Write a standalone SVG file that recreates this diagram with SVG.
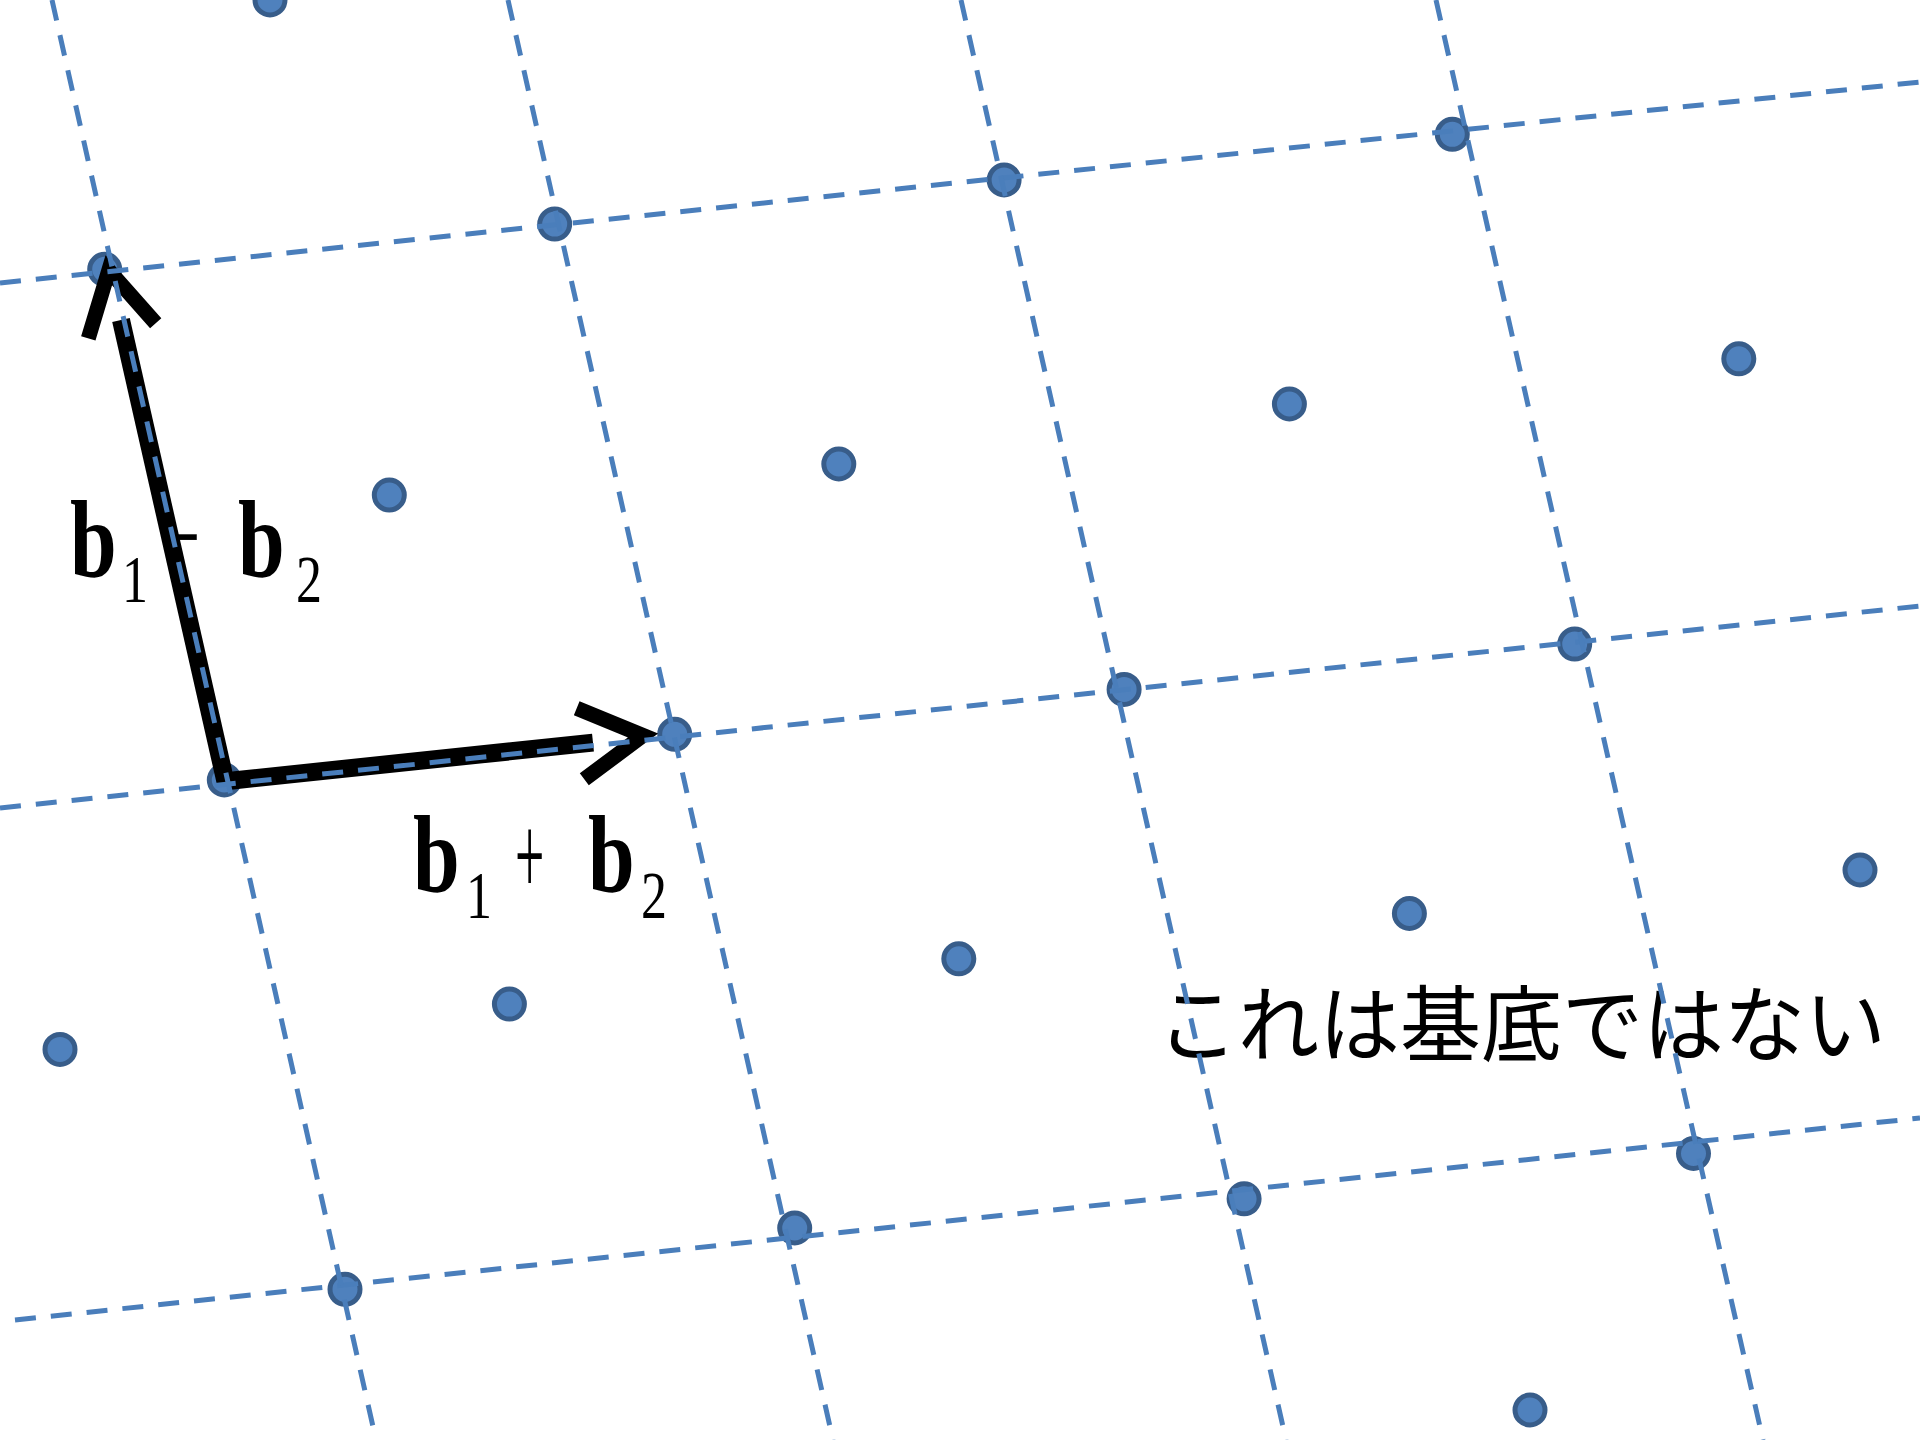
<svg xmlns="http://www.w3.org/2000/svg" width="1920" height="1440" viewBox="0 0 1920 1440">
<style>
.dot{fill:#4F81BD;stroke:#385D8A;stroke-width:5}
.grid{stroke:#4A7EBB;stroke-width:5;stroke-dasharray:21 15;fill:none}
.shaft{stroke:#000;stroke-width:18;fill:none;stroke-linecap:butt}
.wing{stroke:#000;stroke-width:15;fill:none;stroke-linecap:butt;stroke-linejoin:miter;stroke-miterlimit:6}
.bv{font-family:"Liberation Serif",serif;font-weight:bold;font-size:84px;fill:#000}
.sub{font-family:"Liberation Serif",serif;font-size:52px;fill:#000}
.jp{font-family:"Noto Sans CJK JP",sans-serif;font-size:81px;fill:#000}
</style>
<rect width="1920" height="1440" fill="#fff"/>
<g id="labels">
<g id="label-b1-minus-b2">
<text class="bv" transform="translate(70,576.7) scale(1,1.32)">b</text>
<text class="sub" transform="translate(122,601.7) scale(1,1.32)">1</text>
<text class="sub" transform="translate(170,575) scale(1,2.2)">−</text>
<text class="bv" transform="translate(238,576.7) scale(1,1.32)">b</text>
<text class="sub" transform="translate(296,601.7) scale(1,1.32)">2</text>
</g>
<g id="label-b1-plus-b2">
<text class="bv" transform="translate(413,891.7) scale(1,1.32)">b</text>
<text class="sub" transform="translate(466,918) scale(1,1.32)">1</text>
<text class="sub" transform="translate(515,894) scale(1,2.2)">+</text>
<text class="bv" transform="translate(588,891.7) scale(1,1.32)">b</text>
<text class="sub" transform="translate(641,918) scale(1,1.32)">2</text>
</g>
<g id="label-not-basis">
<text class="jp" transform="translate(1157,1055) scale(1,1.03)">これは基底ではない</text>
</g>
</g>
<g id="dots">
<g id="p1"><circle class="dot" cx="270" cy="0" r="15"/></g>
<g id="p2"><circle class="dot" cx="104.7" cy="269.3" r="15"/></g>
<g id="p3"><circle class="dot" cx="554.7" cy="224.1" r="15"/></g>
<g id="p4"><circle class="dot" cx="1004.1" cy="180" r="15"/></g>
<g id="p5"><circle class="dot" cx="1452.3" cy="134.3" r="15"/></g>
<g id="p6"><circle class="dot" cx="389.3" cy="495" r="15"/></g>
<g id="p7"><circle class="dot" cx="838.8" cy="464" r="15"/></g>
<g id="p8"><circle class="dot" cx="1289.4" cy="404" r="15"/></g>
<g id="p9"><circle class="dot" cx="1738.8" cy="358.8" r="15"/></g>
<g id="p10"><circle class="dot" cx="224.3" cy="780" r="15"/></g>
<g id="p11"><circle class="dot" cx="674.7" cy="734.3" r="15"/></g>
<g id="p12"><circle class="dot" cx="1124.1" cy="689.4" r="15"/></g>
<g id="p13"><circle class="dot" cx="1574.7" cy="644.1" r="15"/></g>
<g id="p14"><circle class="dot" cx="60" cy="1049.4" r="15"/></g>
<g id="p15"><circle class="dot" cx="509.4" cy="1004.1" r="15"/></g>
<g id="p16"><circle class="dot" cx="958.8" cy="958.8" r="15"/></g>
<g id="p17"><circle class="dot" cx="1409.4" cy="913.5" r="15"/></g>
<g id="p18"><circle class="dot" cx="1860" cy="870" r="15"/></g>
<g id="p19"><circle class="dot" cx="345" cy="1289.3" r="15"/></g>
<g id="p20"><circle class="dot" cx="794.7" cy="1228" r="15"/></g>
<g id="p21"><circle class="dot" cx="1244.1" cy="1198.8" r="15"/></g>
<g id="p22"><circle class="dot" cx="1693.5" cy="1153.5" r="15"/></g>
<g id="p23"><circle class="dot" cx="1530" cy="1410" r="15"/></g>
</g>
<g id="connectors">
<g id="arrow-b1-plus-b2">
<line class="shaft" x1="228" y1="781" x2="593" y2="742.6"/>
<polyline class="wing" points="576.7,708.3 643,735.5 584.3,779.3"/>
</g>
<g id="arrow-b1-minus-b2">
<line class="shaft" x1="226" y1="784" x2="121" y2="320"/>
<polyline class="wing" points="88.3,338.3 108.8,270.2 155.7,323.3"/>
</g>
</g>
<g id="grid">
<line class="grid" x1="0" y1="283" x2="1920" y2="82"/>
<line class="grid" x1="0" y1="808" x2="1920" y2="606"/>
<line class="grid" x1="15" y1="1320" x2="1920" y2="1118"/>
<line class="grid" x1="52" y1="0" x2="376" y2="1440"/>
<line class="grid" x1="508" y1="0" x2="833" y2="1440"/>
<line class="grid" x1="961" y1="0" x2="1286" y2="1440"/>
<line class="grid" x1="1436" y1="0" x2="1763" y2="1440"/>
</g>
</svg>
